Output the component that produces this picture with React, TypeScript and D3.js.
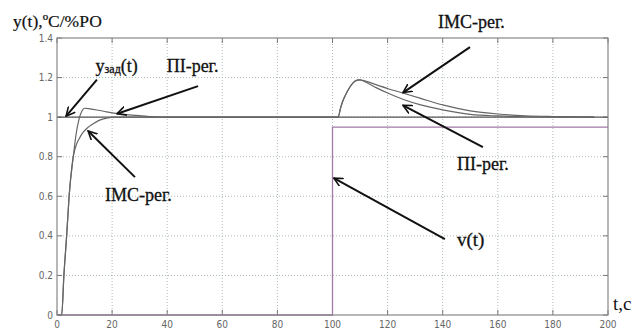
import React, { useEffect, useRef } from 'react';
import * as d3 from 'd3';

// setpoint y_зад(t)
const setT = [0, 200];
const setY = [1, 1];

// ПІ-регулятор response
const piT = [0, 1.7, 2.5, 3.5, 4.4, 5.9, 7, 8, 9, 10, 12, 15, 18, 22, 27, 32, 38, 100, 102, 103, 104, 105, 106, 107, 108, 109, 110, 111, 113, 116, 120, 126, 132, 140, 150, 160, 170, 180, 195];
const piY = [0, 0, 0.2, 0.4, 0.6, 0.8, 0.92, 0.99, 1.03, 1.045, 1.042, 1.035, 1.027, 1.018, 1.01, 1.005, 1.0, 1.0, 1.0, 1.05, 1.09, 1.12, 1.145, 1.165, 1.18, 1.187, 1.188, 1.184, 1.17, 1.148, 1.122, 1.088, 1.062, 1.037, 1.014, 1.006, 1.002, 1.001, 1.0];

// IMC-регулятор response
const imcT = [0, 1.7, 2.5, 3.5, 4.4, 5.9, 7, 8, 9.6, 11, 13, 15.5, 18, 21, 25, 100, 102, 103, 104, 105, 106, 107, 108, 109, 110, 111, 113, 116, 120, 126, 132, 140, 150, 160, 170, 180, 195];
const imcY = [0, 0, 0.2, 0.4, 0.6, 0.8, 0.86, 0.89, 0.925, 0.945, 0.965, 0.985, 0.995, 1.0, 1.0, 1.0, 1.0, 1.05, 1.09, 1.12, 1.145, 1.165, 1.18, 1.187, 1.188, 1.186, 1.178, 1.163, 1.145, 1.12, 1.095, 1.062, 1.032, 1.016, 1.007, 1.003, 1.0];

// disturbance v(t)
const vT = [0, 100, 100, 200];
const vY = [0, 0, 0.95, 0.95];

const xTicks = [0, 20, 40, 60, 80, 100, 120, 140, 160, 180, 200];
const yTicks = [0, 0.2, 0.4, 0.6, 0.8, 1, 1.2, 1.4];

// annotations: label, text pos (t, y), arrow from -> to
const notes = [
  { label: 'y', sub: 'зад', tail: '(t)', tx: 14, ty: 1.23, size: 18, x1: 14.5, y1: 1.19, x2: 3.3, y2: 1.005 },
  { label: 'ПІ-рег.', tx: 39.8, ty: 1.23, size: 18, x1: 51.2, y1: 1.157, x2: 21.8, y2: 1.017 },
  { label: 'IMC-рег.', tx: 17.4, ty: 0.575, size: 18, x1: 28.3, y1: 0.697, x2: 11.3, y2: 0.93 },
  { label: 'IMC-рег.', tx: 138.3, ty: 1.45, size: 18, x1: 149.9, y1: 1.354, x2: 125.6, y2: 1.124 },
  { label: 'ПІ-рег.', tx: 145.2, ty: 0.732, size: 18, x1: 154.6, y1: 0.848, x2: 125.6, y2: 1.06 },
  { label: 'v(t)', tx: 145.2, ty: 0.348, size: 19, x1: 140.8, y1: 0.384, x2: 100.5, y2: 0.692 },
];

const W = 632;
const H = 331;

const App = () => {
  const ref = useRef<SVGSVGElement>(null);

  useEffect(() => {
    const svg = d3.select(ref.current);
    svg.selectAll('*').remove();

    const x = d3.scaleLinear().domain([0, 200]).range([57, 608]);
    const y = d3.scaleLinear().domain([0, 1.4]).range([315, 38]);
    const serif = "'Liberation Serif', 'DejaVu Serif', serif";
    const sans = "'Liberation Sans Narrow', 'DejaVu Sans Condensed', 'Liberation Sans', sans-serif";

    svg.append('rect').attr('width', W).attr('height', H).attr('fill', '#fff');

    const defs = svg.append('defs');
    defs.append('marker')
      .attr('id', 'arr')
      .attr('viewBox', '0 0 10 10')
      .attr('refX', 9).attr('refY', 5)
      .attr('markerWidth', 5).attr('markerHeight', 5)
      .attr('orient', 'auto')
      .append('path')
      .attr('d', 'M0,0.5 L9,5 L0,9.5')
      .attr('fill', 'none')
      .attr('stroke', '#111')
      .attr('stroke-width', 1.6);

    // grid
    const g = svg.append('g');
    g.selectAll('.gx').data(xTicks.slice(1, -1)).enter().append('line')
      .attr('x1', d => x(d)).attr('x2', d => x(d))
      .attr('y1', y(0)).attr('y2', y(1.4))
      .attr('stroke', '#9aa').attr('stroke-width', 0.8).attr('stroke-dasharray', '1,2');
    g.selectAll('.gy').data(yTicks.slice(1, -1)).enter().append('line')
      .attr('x1', x(0)).attr('x2', x(200))
      .attr('y1', d => y(d)).attr('y2', d => y(d))
      .attr('stroke', '#9aa').attr('stroke-width', 0.8).attr('stroke-dasharray', '1,2');

    // inward ticks on all sides
    const tk = 5;
    xTicks.forEach(t => {
      g.append('line').attr('x1', x(t)).attr('x2', x(t)).attr('y1', y(0)).attr('y2', y(0) - tk).attr('stroke', '#777');
      g.append('line').attr('x1', x(t)).attr('x2', x(t)).attr('y1', y(1.4)).attr('y2', y(1.4) + tk).attr('stroke', '#777');
    });
    yTicks.forEach(v => {
      g.append('line').attr('x1', x(0)).attr('x2', x(0) + tk).attr('y1', y(v)).attr('y2', y(v)).attr('stroke', '#777');
      g.append('line').attr('x1', x(200)).attr('x2', x(200) - tk).attr('y1', y(v)).attr('y2', y(v)).attr('stroke', '#777');
    });

    // tick labels
    g.selectAll('.xl').data(xTicks).enter().append('text')
      .attr('x', d => x(d)).attr('y', 328)
      .attr('text-anchor', 'middle')
      .attr('font-family', sans).attr('font-size', 10).attr('fill', '#666')
      .text(d => d);
    g.selectAll('.yl').data(yTicks).enter().append('text')
      .attr('x', 53).attr('y', d => y(d) + 3.5)
      .attr('text-anchor', 'end')
      .attr('font-family', sans).attr('font-size', 10).attr('fill', '#666')
      .text(d => d);

    const line = d3.line<[number, number]>().x(d => x(d[0])).y(d => y(d[1]));
    const zip = (a: number[], b: number[]) => a.map((t, i) => [t, b[i]] as [number, number]);

    // v(t)
    g.append('path').datum(zip(vT, vY)).attr('d', line)
      .attr('fill', 'none').attr('stroke', '#a27aa6').attr('stroke-width', 1.3);

    const smooth = d3.line<[number, number]>().x(d => x(d[0])).y(d => y(d[1])).curve(d3.curveMonotoneX);
    g.append('path').datum(zip(setT, setY)).attr('d', line)
      .attr('fill', 'none').attr('stroke', '#555').attr('stroke-width', 1.3);
    g.append('path').datum(zip(imcT, imcY)).attr('d', smooth)
      .attr('fill', 'none').attr('stroke', '#666').attr('stroke-width', 1.2);
    g.append('path').datum(zip(piT, piY)).attr('d', smooth)
      .attr('fill', 'none').attr('stroke', '#666').attr('stroke-width', 1.2);

    // frame
    g.append('rect')
      .attr('x', x(0)).attr('y', y(1.4))
      .attr('width', x(200) - x(0)).attr('height', y(0) - y(1.4))
      .attr('fill', 'none').attr('stroke', '#888').attr('stroke-width', 1.2);

    // axis titles
    svg.append('text').attr('x', 13).attr('y', 27)
      .attr('font-family', serif).attr('font-size', 17.5).attr('fill', '#111')
      .attr('stroke', '#111').attr('stroke-width', 0.2)
      .text('y(t),ºC/%РО');
    svg.append('text').attr('x', 613).attr('y', 310)
      .attr('font-family', serif).attr('font-size', 19).attr('fill', '#111')
      .text('t,c');

    // annotations
    notes.forEach(n => {
      svg.append('line')
        .attr('x1', x(n.x1)).attr('y1', y(n.y1))
        .attr('x2', x(n.x2)).attr('y2', y(n.y2))
        .attr('stroke', '#111').attr('stroke-width', 2)
        .attr('marker-end', 'url(#arr)');
      const t = svg.append('text')
        .attr('x', x(n.tx)).attr('y', y(n.ty))
        .attr('font-family', serif).attr('font-size', n.size).attr('fill', '#111')
        .attr('stroke', '#111').attr('stroke-width', 0.3);
      t.append('tspan').text(n.label);
      if (n.sub) {
        t.append('tspan').attr('font-size', 12).attr('dy', 1).text(n.sub);
        t.append('tspan').attr('dy', -1).text(n.tail);
      }
    });
  }, []);

  return (
    <svg ref={ref} width={W} height={H} style={{ position: 'absolute', left: 0, top: 0 }} />
  );
};

export default App;
